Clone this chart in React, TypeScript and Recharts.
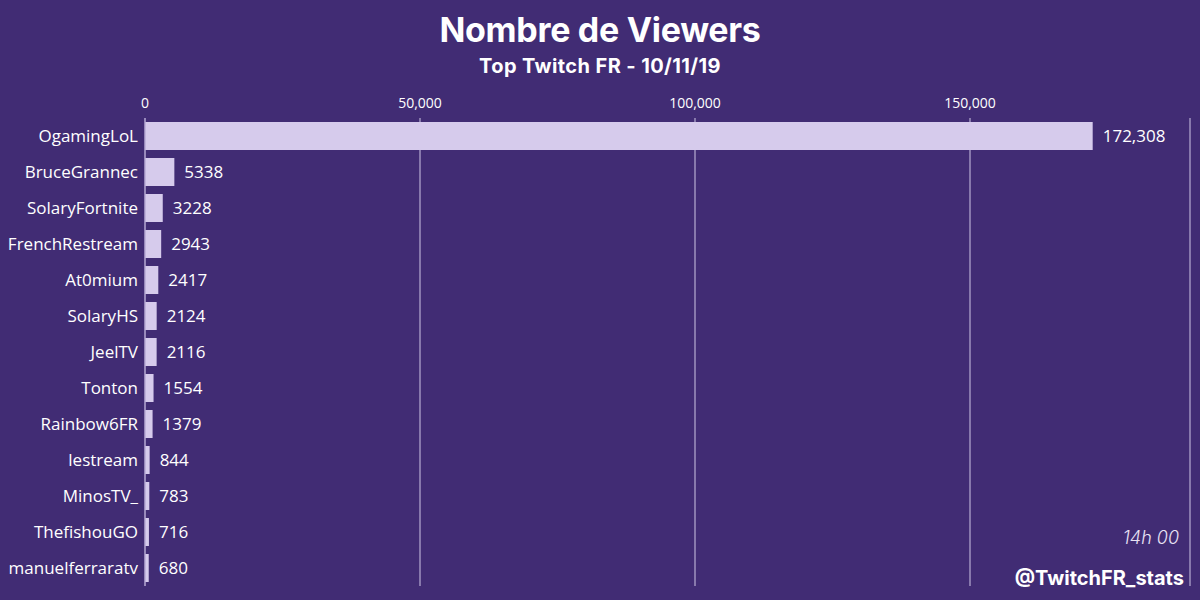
import React from 'react';
import { BarChart, Bar, XAxis, YAxis, CartesianGrid, LabelList } from 'recharts';

const channels = [
  'OgamingLoL',
  'BruceGrannec',
  'SolaryFortnite',
  'FrenchRestream',
  'At0mium',
  'SolaryHS',
  'JeelTV',
  'Tonton',
  'Rainbow6FR',
  'lestream',
  'MinosTV_',
  'ThefishouGO',
  'manuelferraratv',
];
const viewers = [172308, 5338, 3228, 2943, 2417, 2124, 2116, 1554, 1379, 844, 783, 716, 680];
const xTicks = [0, 50000, 100000, 150000];

const data = channels.map((name, i) => ({ name, viewers: viewers[i] }));

const BG = '#412c74';
const BAR = '#d6cbec';
const LABEL_FONT = '"Open Sans", "Noto Sans", sans-serif';

const formatValue = (v: any) => (Number(v) >= 10000 ? Number(v).toLocaleString('en-US') : String(v));

const App: React.FC = () => {
  return (
    <div style={{ position: 'fixed', left: 0, top: 0, width: 1200, height: 600, background: BG }}>
      <div
        style={{
          position: 'absolute',
          left: 0,
          width: 1200,
          top: 9,
          textAlign: 'center',
          color: '#ffffff',
          fontFamily: 'Inter, Lato, sans-serif',
          fontWeight: 700,
          fontSize: 34,
          letterSpacing: -0.3,
        }}
      >
        Nombre de Viewers
      </div>
      <div
        style={{
          position: 'absolute',
          left: 0,
          width: 1200,
          top: 54,
          textAlign: 'center',
          color: '#ffffff',
          fontFamily: 'Inter, Lato, sans-serif',
          fontWeight: 700,
          fontSize: 20,
          letterSpacing: 0.4,
        }}
      >
        Top Twitch FR - 10/11/19
      </div>
      <BarChart
        width={1200}
        height={600}
        data={data}
        layout="vertical"
        margin={{ top: 88, right: 10, bottom: 14, left: 0 }}
        barCategoryGap={4}
        style={{ position: 'absolute', left: 0, top: 0 }}
      >
        <CartesianGrid horizontal={false} vertical stroke="#cfc6e4" strokeWidth={1} />
        <XAxis
          type="number"
          orientation="top"
          domain={[0, 190000]}
          ticks={xTicks}
          axisLine={false}
          tickLine={false}
          tickMargin={4}
          tickFormatter={(v) => Number(v).toLocaleString('en-US')}
          tick={{ fill: '#ffffff', fontSize: 14, fontFamily: LABEL_FONT }}
        />
        <YAxis
          type="category"
          dataKey="name"
          width={145}
          axisLine={{ stroke: '#a99bcb' }}
          tickLine={false}
          tickMargin={1}
          interval={0}
          tick={{ fill: '#ffffff', fontSize: 17, fontFamily: LABEL_FONT }}
        />
        <Bar dataKey="viewers" fill={BAR} isAnimationActive={false}>
          <LabelList
            dataKey="viewers"
            position="right"
            offset={10}
            formatter={formatValue}
            style={{ fill: '#ffffff', fontSize: 17, fontFamily: LABEL_FONT }}
          />
        </Bar>
      </BarChart>
      <div
        style={{
          position: 'absolute',
          right: 21,
          top: 527,
          color: '#e8e2f4',
          fontFamily: 'Inter, Lato, sans-serif',
          fontStyle: 'italic',
          fontWeight: 300,
          fontSize: 18,
        }}
      >
        14h 00
      </div>
      <div
        style={{
          position: 'absolute',
          right: 16,
          top: 566,
          color: '#ffffff',
          fontFamily: 'Inter, Lato, sans-serif',
          fontWeight: 700,
          fontSize: 20,
        }}
      >
        @TwitchFR_stats
      </div>
    </div>
  );
};

export default App;
